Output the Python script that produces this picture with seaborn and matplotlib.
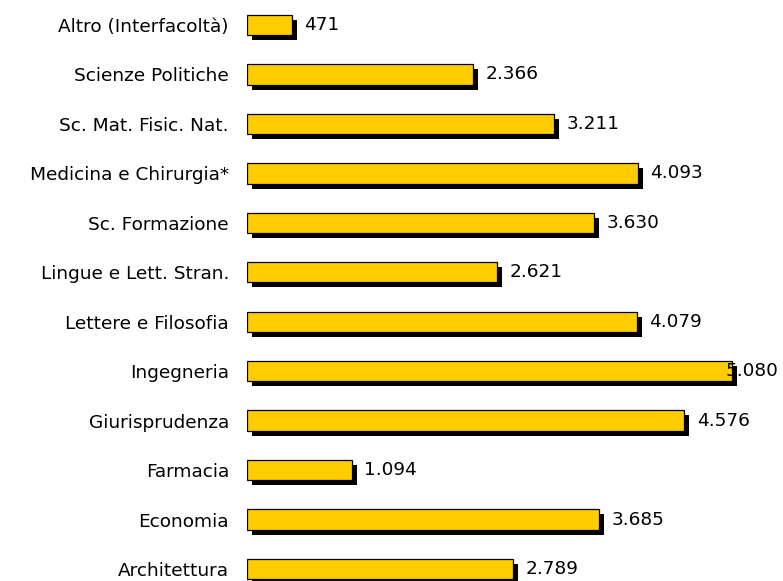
import matplotlib
import matplotlib.pyplot as plt
import matplotlib.patheffects as pe
import pandas as pd
import seaborn as sns

matplotlib.use("Agg")

FACOLTA = [
    "Altro (Interfacoltà)",
    "Scienze Politiche",
    "Sc. Mat. Fisic. Nat.",
    "Medicina e Chirurgia*",
    "Sc. Formazione",
    "Lingue e Lett. Stran.",
    "Lettere e Filosofia",
    "Ingegneria",
    "Giurisprudenza",
    "Farmacia",
    "Economia",
    "Architettura",
]
ISCRITTI = [471, 2366, 3211, 4093, 3630, 2621, 4079, 5080, 4576, 1094, 3685, 2789]

df = pd.DataFrame({"facolta": FACOLTA, "iscritti": ISCRITTI})

sns.set_style("white")
plt.rcParams["font.family"] = ["DejaVu Sans"]
FS = 13.3

fig = plt.figure(figsize=(7.83, 5.81), dpi=100)
ax = fig.add_axes([247 / 783, 0, 1 - 247 / 783, 1])

sns.barplot(
    data=df,
    y="facolta",
    x="iscritti",
    orient="h",
    color="#FFCC00",
    saturation=1,
    width=0.41,
    edgecolor="black",
    linewidth=0.9,
    ax=ax,
)

# ombra nera sotto ogni barra
for bar in ax.patches:
    bar.set_path_effects(
        [pe.SimplePatchShadow(offset=(3.6, -3.6), shadow_rgbFace="black", alpha=1), pe.Normal()]
    )

XMAX = 5610
ax.set_xlim(0, XMAX)
ax.set_ylim(11.243, -0.506)

for i, v in enumerate(ISCRITTI):
    label = f"{v:,}".replace(",", ".")
    if v + 600 > XMAX:
        # etichetta troppo lunga: spinta dentro il bordo destro
        ax.annotate(label, (1, i), xycoords=("axes fraction", "data"),
                    xytext=(-3, 0), textcoords="offset points",
                    ha="right", va="center", fontsize=FS, color="black")
    else:
        ax.annotate(label, (v, i), xytext=(9, 0), textcoords="offset points",
                    ha="left", va="center", fontsize=FS, color="black")

ax.set_xlabel("")
ax.set_ylabel("")
ax.set_xticks([])
ax.tick_params(axis="y", length=0, pad=13, labelsize=FS, labelcolor="black")
sns.despine(ax=ax, left=True, bottom=True)

fig.savefig("out.png", dpi=100)
